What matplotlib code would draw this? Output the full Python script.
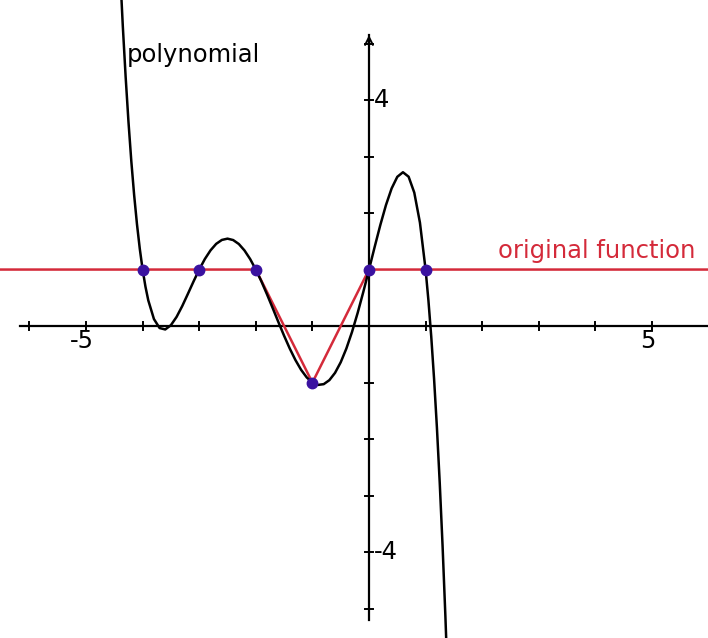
import matplotlib
matplotlib.use("Agg")
import matplotlib.pyplot as plt

# Interpolation nodes (blue points)
node_x = [-4, -3, -2, -1, 0, 1]
node_y = [1, 1, 1, -1, 1, 1]

# Original (piecewise linear) function, red
orig_x = [-6.6, -4, -3, -2, -1, 0, 1, 6.1]
orig_y = [1, 1, 1, 1, -1, 1, 1, 1]

# Polynomial curve samples (black)
poly_x = [-4.4, -4.35, -4.3, -4.25, -4.2, -4.15, -4.1, -4.05, -4.0, -3.95,
          -3.9, -3.8, -3.7, -3.6, -3.5,
          -3.4, -3.3, -3.2, -3.1, -3.0, -2.9, -2.8, -2.7, -2.6, -2.5,
          -2.4, -2.3, -2.2, -2.1, -2.0, -1.9, -1.8, -1.7, -1.6, -1.5,
          -1.4, -1.3, -1.2, -1.1, -1.0, -0.9, -0.8, -0.7, -0.6, -0.5,
          -0.4, -0.3, -0.2, -0.1, 0.0, 0.1, 0.2, 0.3, 0.4, 0.5,
          0.6, 0.7, 0.8, 0.9, 1.0, 1.05, 1.1, 1.15, 1.2, 1.25, 1.3, 1.35, 1.4]
poly_y = [6.32, 5.307, 4.41, 3.615, 2.92, 2.321, 1.805, 1.367, 1.0, 0.698,
          0.455, 0.124, -0.035, -0.060, 0.016,
          0.162, 0.354, 0.570, 0.790, 1.0, 1.187, 1.340, 1.455, 1.524, 1.547,
          1.522, 1.452, 1.338, 1.186, 1.0, 0.788, 0.556, 0.314, 0.068, -0.172,
          -0.398, -0.601, -0.774, -0.909, -1.0, -1.041, -1.028, -0.957, -0.828, -0.641,
          -0.398, -0.104, 0.234, 0.606, 1.0, 1.400, 1.788, 2.142, 2.436, 2.641,
          2.722, 2.643, 2.362, 1.831, 1.0, 0.454, -0.188, -0.936, -1.796, -2.777,
          -3.888, -5.140, -6.540]

xticks = [-6, -5, -4, -3, -2, -1, 1, 2, 3, 4, 5]
yticks = [-5, -4, -3, -2, -1, 1, 2, 3, 4, 5]
xlabels = {-5: "-5", 5: "5"}
ylabels = {4: "4", -4: "-4"}

RED = "#d42a3a"
BLUE = "#3a12a0"
FS = 17.5

fig = plt.figure(figsize=(7.08, 6.38), dpi=100)
ax = fig.add_axes([0, 0, 1, 1])
ax.set_xlim(-6.52, 5.99)
ax.set_ylim(-5.52, 5.77)
ax.axis("off")

# axes lines with arrows
ax.plot([-6.17, 6.0], [0, 0], color="black", lw=1.6, zorder=1)
ax.plot([0, 0], [-5.2, 5.15], color="black", lw=1.6, zorder=1)
ax.annotate("", xy=(0, 5.2), xytext=(0, 4.9),
            arrowprops=dict(arrowstyle="->", color="black", lw=1.4,
                            mutation_scale=14), zorder=1)
ax.annotate("", xy=(6.05, 0), xytext=(5.7, 0),
            arrowprops=dict(arrowstyle="->", color="black", lw=1.4,
                            mutation_scale=14), zorder=1)

tl = 0.07
for t in xticks:
    ax.plot([t, t], [-tl, tl], color="black", lw=1.4, zorder=1)
for t in yticks:
    ax.plot([-tl, tl], [t, t], color="black", lw=1.4, zorder=1)

for t, s in xlabels.items():
    ax.text(t - 0.08, -0.27, s, ha="center", va="center", fontsize=FS,
            family="DejaVu Sans", color="black")
for t, s in ylabels.items():
    ax.text(0.08, t, s, ha="left", va="center", fontsize=FS,
            family="DejaVu Sans", color="black")

ax.plot(orig_x, orig_y, color=RED, lw=1.8, zorder=2)
ax.plot(poly_x, poly_y, color="black", lw=1.8, zorder=3,
        solid_joinstyle="round")
ax.plot(node_x, node_y, "o", color=BLUE, markersize=7.5, zorder=4)

ax.text((127 - 369) / 56.6, (326 - 62) / 56.5, "polynomial", ha="left",
        va="baseline", fontsize=FS, color="black", family="DejaVu Sans")
ax.text((498 - 369) / 56.6, (326 - 258) / 56.5, "original function",
        ha="left", va="baseline", fontsize=FS, color=RED, family="DejaVu Sans")

fig.savefig("out.png", dpi=100)
